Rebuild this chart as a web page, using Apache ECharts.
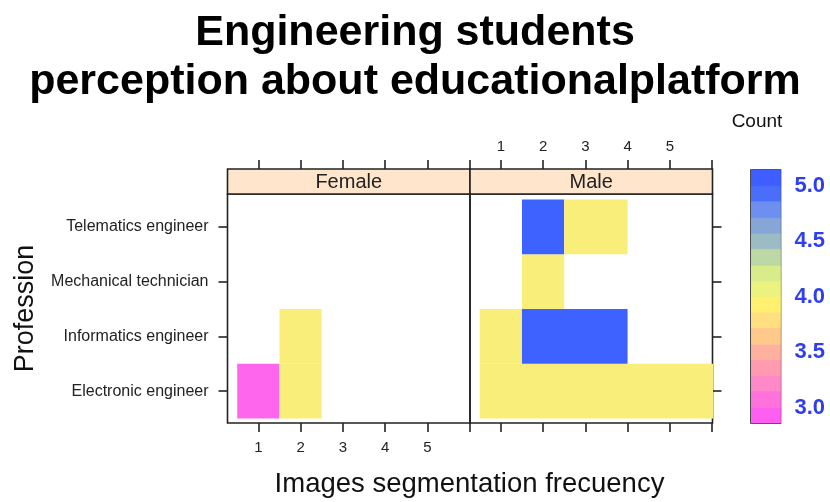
<!DOCTYPE html>
<html>
<head>
<meta charset="utf-8">
<script src="https://cdn.jsdelivr.net/npm/echarts@6/dist/echarts.min.js"></script>
<style>
  html, body { margin: 0; padding: 0; background: #fff; }
  #chart { width: 830px; height: 502px; }
</style>
</head>
<body>
<div id="chart"></div>
<script>
// rows of the y axis, bottom to top
const professions = ['Electronic engineer', 'Informatics engineer', 'Mechanical technician', 'Telematics engineer'];
const freqLabels = [1, 2, 3, 4, 5];
const freqTicks = [1, 2, 3, 4, 5, 6];

// cells: [from frequency, to frequency, profession row, count]
const femaleCells = [
  [0.5, 1.5, 1, 3],
  [1.5, 2.5, 1, 4],
  [1.5, 2.5, 2, 4]
];
const maleCells = [
  [0.5, 6.5, 1, 4],
  [0.5, 1.5, 2, 4],
  [1.5, 4.0, 2, 5],
  [1.5, 2.5, 3, 4],
  [1.5, 2.5, 4, 5],
  [2.5, 4.0, 4, 4]
];

// colour key
const countTicks = [3.0, 3.5, 4.0, 4.5, 5.0];
const keyBreaks = [2.86, 3.0, 3.15, 3.29, 3.43, 3.57, 3.72, 3.86, 4.0, 4.14, 4.28, 4.43, 4.57, 4.71, 4.86, 5.0, 5.14];
const keyColors = [
  '#FF5FF0', '#FF72DC', '#FF88C8', '#FF9AB0', '#FFB09E', '#FFC98C', '#FFDF80', '#FFF070',
  '#ECF27E', '#D8EC8C', '#BCD8A4', '#9CBCC4', '#86A6D8', '#6C8FF0', '#4A6EFA', '#3F5EFF'
];

const FONT = 'Liberation Sans, Arial, sans-serif';
const INK = '#222';
const lineStyle = { color: INK, width: 1.6 };

const chart = echarts.init(document.getElementById('chart'));

function renderCell(params, api) {
  const row = api.value(2);
  const p0 = api.coord([api.value(0), row - 0.5]);
  const p1 = api.coord([api.value(1), row + 0.5]);
  return {
    type: 'rect',
    shape: { x: p0[0], y: p1[1], width: p1[0] - p0[0], height: p0[1] - p1[1] },
    style: { fill: api.visual('color') }
  };
}

function renderKey(params, api) {
  const p0 = api.coord([0, api.value(0)]);
  const p1 = api.coord([1, api.value(1)]);
  const c = keyColors[api.value(2)];
  return {
    type: 'rect',
    shape: { x: p0[0], y: p1[1], width: p1[0] - p0[0], height: p0[1] - p1[1] },
    style: { fill: c, stroke: c, lineWidth: 0.8 }
  };
}

function freqAxis(grid, position, withLabels) {
  return {
    type: 'value', gridIndex: grid, position: position,
    offset: position === 'top' ? 25 : 0,
    min: 0.27, max: 6.01,
    axisLine: { show: false },
    splitLine: { show: false },
    axisTick: { show: true, length: 9, lineStyle: lineStyle, customValues: freqTicks },
    axisLabel: {
      show: withLabels, customValues: freqLabels,
      margin: position === 'top' ? 15 : 17,
      fontSize: 15, color: INK, fontFamily: FONT
    }
  };
}

const gridBox = { show: true, borderColor: INK, borderWidth: 1.6, backgroundColor: 'transparent' };

chart.setOption({
  animation: false,
  textStyle: { fontFamily: FONT },
  title: {
    text: 'Engineering students\nperception about educationalplatform',
    left: 'center', top: 4,
    textStyle: { fontSize: 43, fontWeight: 'bold', color: '#000', lineHeight: 49, fontFamily: FONT }
  },
  grid: [
    Object.assign({ left: 227.5, top: 194, width: 242.5, height: 229 }, gridBox),
    Object.assign({ left: 470, top: 194, width: 242.5, height: 229 }, gridBox),
    Object.assign({ left: 751, top: 170, width: 29.5, height: 253 }, gridBox)
  ],
  xAxis: [
    freqAxis(0, 'bottom', true),
    freqAxis(0, 'top', false),
    freqAxis(1, 'bottom', false),
    freqAxis(1, 'top', true),
    { type: 'value', gridIndex: 2, min: 0, max: 1, show: false }
  ],
  yAxis: [
    {
      type: 'value', gridIndex: 0, position: 'left', min: 0.42, max: 4.6,
      name: 'Profession', nameLocation: 'middle', nameGap: 188,
      nameTextStyle: { fontSize: 27, color: '#111', fontFamily: FONT },
      axisLine: { show: false }, splitLine: { show: false },
      axisTick: { show: true, length: 9, lineStyle: lineStyle, customValues: [1, 2, 3, 4] },
      axisLabel: {
        customValues: [1, 2, 3, 4], margin: 19, fontSize: 16, color: INK, fontFamily: FONT,
        formatter: (v) => professions[Math.round(v) - 1]
      }
    },
    {
      type: 'value', gridIndex: 1, position: 'right', min: 0.42, max: 4.6,
      axisLine: { show: false }, splitLine: { show: false },
      axisTick: { show: true, length: 9, lineStyle: lineStyle, customValues: [1, 2, 3, 4] },
      axisLabel: { show: false }
    },
    {
      type: 'value', gridIndex: 2, position: 'right', min: 2.86, max: 5.14,
      axisLine: { show: false }, splitLine: { show: false },
      axisTick: { show: true, length: 7, lineStyle: lineStyle, customValues: countTicks },
      axisLabel: {
        customValues: countTicks, margin: 14, fontSize: 22, fontWeight: 'bold',
        color: '#2F3FF0', fontFamily: FONT, formatter: (v) => v.toFixed(1)
      }
    }
  ],
  visualMap: {
    type: 'piecewise', show: false, seriesIndex: [0, 1], dimension: 3,
    pieces: [
      { value: 3, color: '#FF66EE' },
      { value: 4, color: '#FAEE7A' },
      { value: 5, color: '#3D62FF' }
    ]
  },
  series: [
    {
      type: 'custom', xAxisIndex: 0, yAxisIndex: 0, clip: true,
      renderItem: renderCell, encode: { x: [0, 1], y: 2 }, data: femaleCells
    },
    {
      type: 'custom', xAxisIndex: 2, yAxisIndex: 1, clip: true,
      renderItem: renderCell, encode: { x: [0, 1], y: 2 }, data: maleCells
    },
    {
      type: 'custom', xAxisIndex: 4, yAxisIndex: 2, clip: true,
      renderItem: renderKey, encode: { y: [0, 1] },
      data: keyColors.map((c, i) => [keyBreaks[i], keyBreaks[i + 1], i])
    }
  ],
  graphic: [
    {
      type: 'rect', shape: { x: 227.5, y: 169, width: 242.5, height: 25 },
      style: { fill: '#FFE5CC', stroke: INK, lineWidth: 1.6 }
    },
    {
      type: 'rect', shape: { x: 470, y: 169, width: 242.5, height: 25 },
      style: { fill: '#FFE5CC', stroke: INK, lineWidth: 1.6 }
    },
    {
      type: 'text', x: 348.75, y: 182,
      style: { text: 'Female', fill: INK, font: '20px ' + FONT, textAlign: 'center', textVerticalAlign: 'middle' }
    },
    {
      type: 'text', x: 591.25, y: 182,
      style: { text: 'Male', fill: INK, font: '20px ' + FONT, textAlign: 'center', textVerticalAlign: 'middle' }
    },
    {
      type: 'text', x: 469.5, y: 484,
      style: { text: 'Images segmentation frecuency', font: '27.5px ' + FONT, fill: '#111', textAlign: 'center', textVerticalAlign: 'middle' }
    },
    {
      type: 'text', x: 757, y: 121.5,
      style: { text: 'Count', font: '19px ' + FONT, fill: '#111', textAlign: 'center', textVerticalAlign: 'middle' }
    }
  ]
});

window.addEventListener('resize', () => chart.resize());
</script>
</body>
</html>
